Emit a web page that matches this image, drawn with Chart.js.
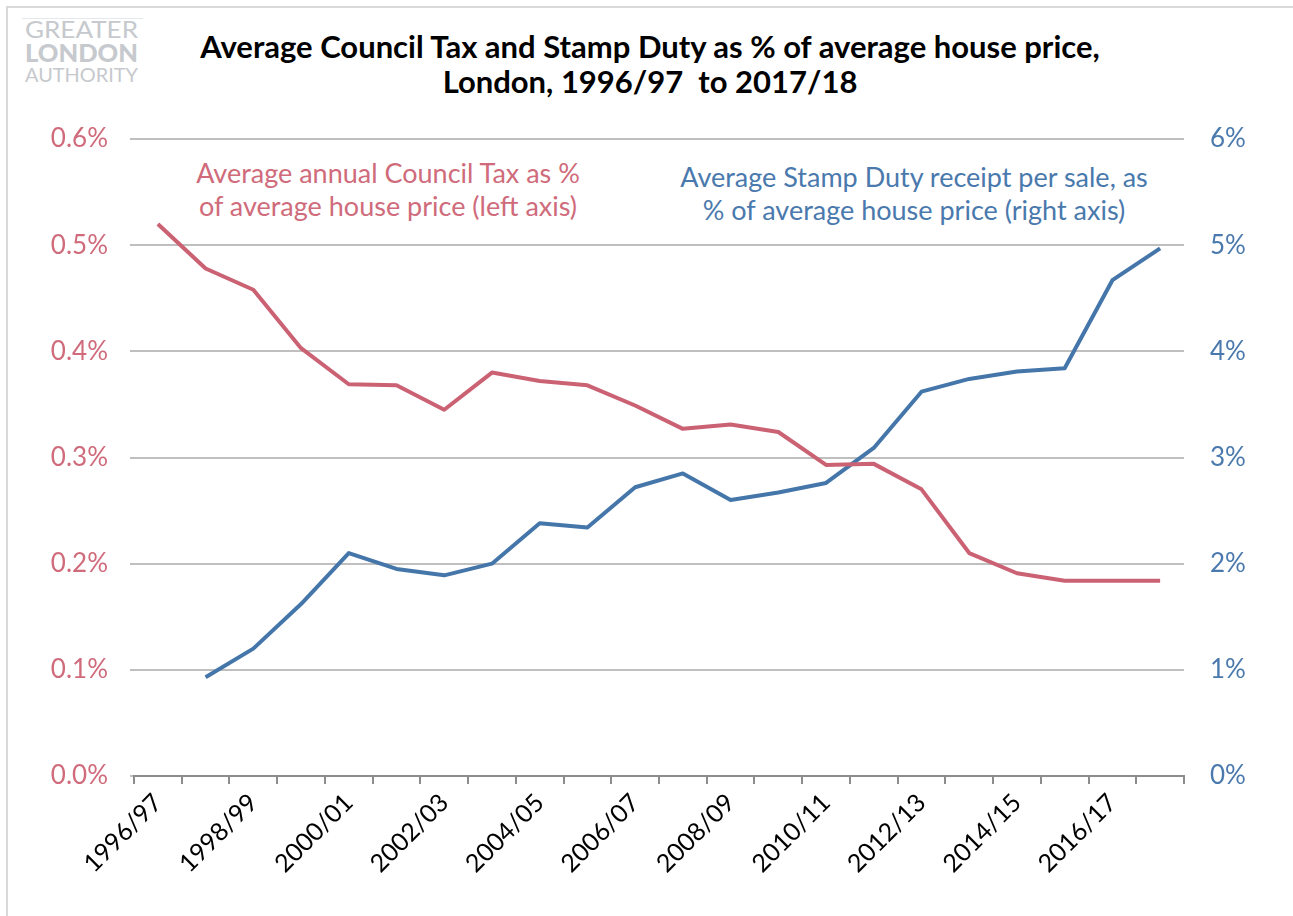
<!DOCTYPE html>
<html>
<head>
<meta charset="utf-8">
<script src="https://cdn.jsdelivr.net/npm/chart.js@4/dist/chart.umd.min.js"></script>
<style>
  html, body { margin: 0; padding: 0; background: #ffffff; }
  body { width: 1293px; height: 916px; position: relative; overflow: hidden; font-family: Lato, "Open Sans", sans-serif; }
  #frame { position: absolute; left: 6px; top: 6px; width: 1400px; height: 1000px; border-left: 2px solid #d9d9d9; border-top: 2px solid #d9d9d9; }
  #chartWrap { position: absolute; left: 0; top: 0; width: 1293px; height: 916px; }
  #title { position: absolute; left: 0; top: 29px; width: 1300px; text-align: center; font-weight: bold; font-size: 31px; line-height: 35px; color: #000; }
  .note { position: absolute; text-align: center; font-size: 27px; line-height: 33px; white-space: nowrap; }
  #noteRed { left: 188px; top: 156px; width: 400px; color: #cf6b7b; }
  #noteBlue { left: 664px; top: 160px; width: 500px; color: #4a79ad; }
  #logo { position: absolute; left: 0; top: 0; }
</style>
</head>
<body>
<div id="frame"></div>
<svg id="logo" width="160" height="95">
  <line x1="22" y1="18.5" x2="143" y2="18.5" stroke="#e4e9ee" stroke-width="1"/>
  <text x="25" y="38" font-family="Lato" font-size="23" fill="#c6c9cd" textLength="113" lengthAdjust="spacingAndGlyphs">GREATER</text>
  <text x="25" y="62" font-family="Lato" font-weight="900" font-size="25" fill="#c6c9cd" textLength="113" lengthAdjust="spacingAndGlyphs">LONDON</text>
  <text x="25" y="82" font-family="Lato" font-size="20" fill="#c6c9cd" textLength="113" lengthAdjust="spacingAndGlyphs">AUTHORITY</text>
</svg>
<div id="title">Average Council Tax and Stamp Duty as % of average house price,<br>London, 1996/97&nbsp; to 2017/18</div>
<div class="note" id="noteRed">Average annual Council Tax as %<br>of average house price (left axis)</div>
<div class="note" id="noteBlue">Average Stamp Duty receipt per sale, as<br>% of average house price (right axis)</div>
<div id="chartWrap"><canvas id="c" width="1293" height="916"></canvas></div>
<script>
const categories = ["1996/97","1997/98","1998/99","1999/00","2000/01","2001/02","2002/03","2003/04","2004/05","2005/06","2006/07","2007/08","2008/09","2009/10","2010/11","2011/12","2012/13","2013/14","2014/15","2015/16","2016/17","2017/18"];
const councilTaxPct = [0.520,0.478,0.458,0.403,0.369,0.368,0.345,0.380,0.372,0.368,0.349,0.327,0.331,0.324,0.293,0.294,0.270,0.210,0.191,0.184,0.184,0.184];
const stampDutyPct = [null,0.93,1.20,1.62,2.10,1.95,1.89,2.00,2.38,2.34,2.72,2.85,2.60,2.67,2.76,3.09,3.62,3.74,3.81,3.84,4.67,4.97];
const leftTicks = [0,0.1,0.2,0.3,0.4,0.5,0.6];
const rightTicks = [0,1,2,3,4,5,6];

const RED = '#cb6274';
const BLUE = '#4576aa';
const FONT = 'Lato';

new Chart(document.getElementById('c'), {
  type: 'line',
  data: {
    labels: categories,
    datasets: [
      { label: 'Council Tax', data: councilTaxPct, yAxisID: 'yL', borderColor: RED, backgroundColor: RED, borderWidth: 4, pointRadius: 0, tension: 0, borderJoinStyle: 'round', clip: false },
      { label: 'Stamp Duty', data: stampDutyPct, yAxisID: 'yR', borderColor: BLUE, backgroundColor: BLUE, borderWidth: 4, pointRadius: 0, tension: 0, borderJoinStyle: 'round', clip: false }
    ]
  },
  options: {
    responsive: false,
    animation: false,
    devicePixelRatio: 1,
    layout: { padding: { top: 139, left: 0, right: 0, bottom: 0 } },
    plugins: { legend: { display: false }, title: { display: false }, tooltip: { enabled: false } },
    scales: {
      x: {
        type: 'category',
        offset: true,
        grid: { offset: true, drawOnChartArea: false, drawTicks: true, tickLength: 8, color: '#8c8c8c', lineWidth: 2 },
        border: { display: true, color: '#8c8c8c', width: 2 },
        ticks: {
          autoSkip: false, maxRotation: 45, minRotation: 45, padding: 4,
          color: '#000000', font: { family: FONT, size: 25 },
          callback: (v, i) => (i % 2 === 0 ? categories[i] : '')
        },
        afterFit: s => { s.height = 140; }
      },
      yL: {
        position: 'left', min: 0, max: 0.6,
        afterBuildTicks: s => { s.ticks = leftTicks.map(v => ({ value: v })); },
        grid: { color: '#bfbfbf', lineWidth: 2, drawTicks: true, tickLength: 4 },
        border: { display: false },
        ticks: { color: '#cf6b7b', font: { family: FONT, size: 26 }, padding: 22, callback: v => v.toFixed(1) + '%' },
        afterFit: s => { s.width = 134; }
      },
      yR: {
        position: 'right', min: 0, max: 6,
        afterBuildTicks: s => { s.ticks = rightTicks.map(v => ({ value: v })); },
        grid: { drawOnChartArea: false, drawTicks: false },
        border: { display: false },
        ticks: { color: '#4a79ad', font: { family: FONT, size: 26 }, padding: 26, callback: v => v + '%' },
        afterFit: s => { s.width = 109; }
      }
    }
  }
});
</script>
</body>
</html>
